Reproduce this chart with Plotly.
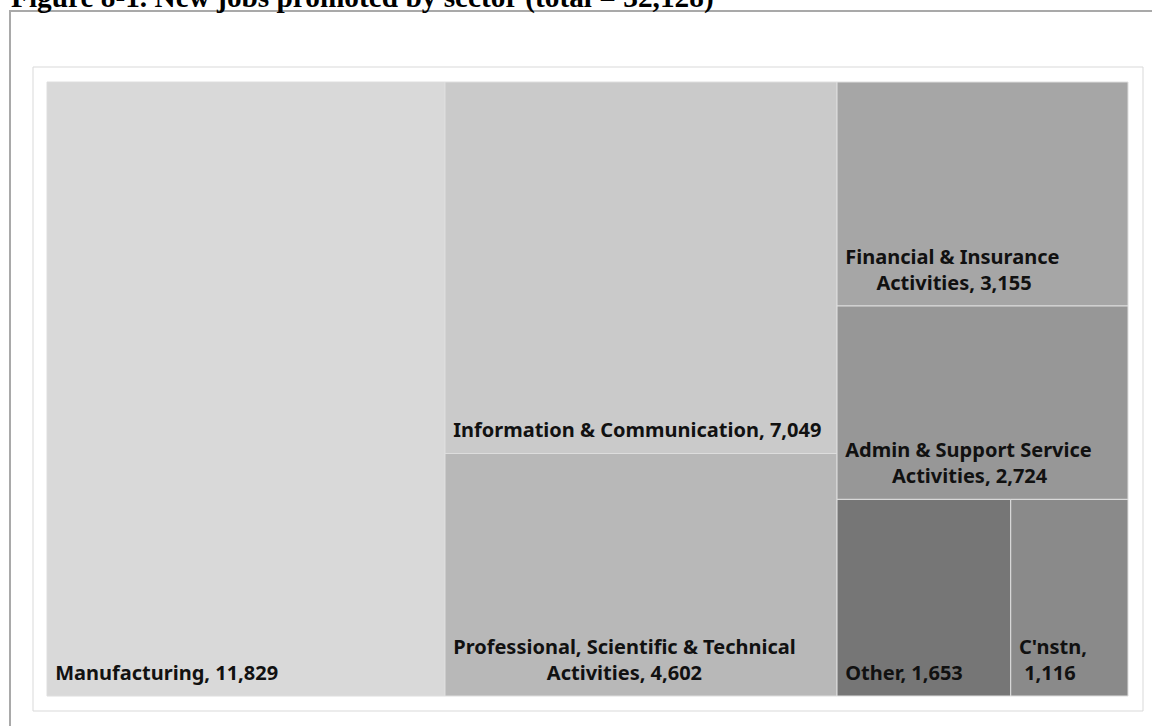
import plotly.graph_objects as go

# Sector breakdown of new jobs promoted
sectors = [
    "Manufacturing",
    "Information & Communication",
    "Professional, Scientific & Technical Activities",
    "Financial & Insurance Activities",
    "Admin & Support Service Activities",
    "Other",
    "C'nstn",
]
jobs = [11829, 7049, 4602, 3155, 2724, 1653, 1116]
# tile captions, with the line break where each caption wraps
captions = [
    "Manufacturing",
    "Information & Communication",
    "Professional, Scientific & Technical<br>Activities",
    "Financial & Insurance<br>Activities",
    "Admin & Support Service<br>Activities",
    "Other",
    "C'nstn",
]
# separator between a caption and its value
value_sep = [", ", ", ", ", ", ", ", ", ", ", ", ",<br>"]
tile_colors = ["#d9d9d9", "#cacaca", "#b8b8b8", "#a6a6a6", "#979797", "#767676", "#8a8a8a"]

title_text = "Figure 8-1. New jobs promoted by sector (total = 32,128)"

# caption layout: left indent and extra indent of the second line (in no-break spaces),
# so the wrapped line sits centred under the first one
NBSP = "\u00a0"
left_indent = 1
second_line_indent = [0, 0, 18, 6, 9, 0, 1]
# an empty tall span at the end lifts the caption off the tile's bottom edge
bottom_lift = "<span style='font-size:44px'>" + NBSP + "</span>"

W, H = 1152, 726


def px_x(x):
    return x / W


def px_y(y):
    return 1 - y / H


def indent_lines(s, extra):
    return s.replace("<br>", "<br>" + NBSP * (left_indent + extra))


tile_text = [indent_lines(c, k) for c, k in zip(captions, second_line_indent)]
templates = [
    NBSP * left_indent + "%{text}" + indent_lines(sep, k) + "%{value:,}" + bottom_lift
    for sep, k in zip(value_sep, second_line_indent)
]

fig = go.Figure(
    go.Treemap(
        labels=sectors,
        parents=[""] * len(sectors),
        values=jobs,
        text=tile_text,
        sort=True,
        texttemplate=templates,
        textposition="bottom left",
        textfont=dict(family="Noto Sans", size=20, color="#111111", weight="bold"),
        marker=dict(colors=tile_colors, line=dict(color="#dedede", width=1),
                    pad=dict(t=0, l=0, r=0, b=0)),
        tiling=dict(packing="squarify", pad=0),
        pathbar=dict(visible=False),
        hovertemplate="%{label}: %{value:,}<extra></extra>",
        domain=dict(x=[px_x(47), px_x(1128)], y=[px_y(696), px_y(82)]),
    )
)

fig.update_layout(
    width=W,
    height=H,
    margin=dict(l=0, r=0, t=0, b=0),
    paper_bgcolor="white",
    plot_bgcolor="white",
    showlegend=False,
    shapes=[
        # outer figure frame
        dict(type="rect", xref="paper", yref="paper",
             x0=px_x(10), x1=1.2, y0=-0.2, y1=px_y(11),
             line=dict(color="#a9a9a9", width=2), fillcolor="rgba(0,0,0,0)", layer="below"),
        # chart area frame
        dict(type="rect", xref="paper", yref="paper",
             x0=px_x(33), x1=px_x(1143), y0=px_y(711), y1=px_y(67),
             line=dict(color="#d9d9d9", width=1), fillcolor="rgba(0,0,0,0)", layer="below"),
    ],
    annotations=[
        dict(text="<b>" + title_text + "</b>", xref="paper", yref="paper",
             x=px_x(9), y=px_y(16), xanchor="left", yanchor="bottom",
             showarrow=False,
             font=dict(family="Liberation Serif", size=29.3, color="#000000")),
    ],
)

fig.write_html("out.html")
